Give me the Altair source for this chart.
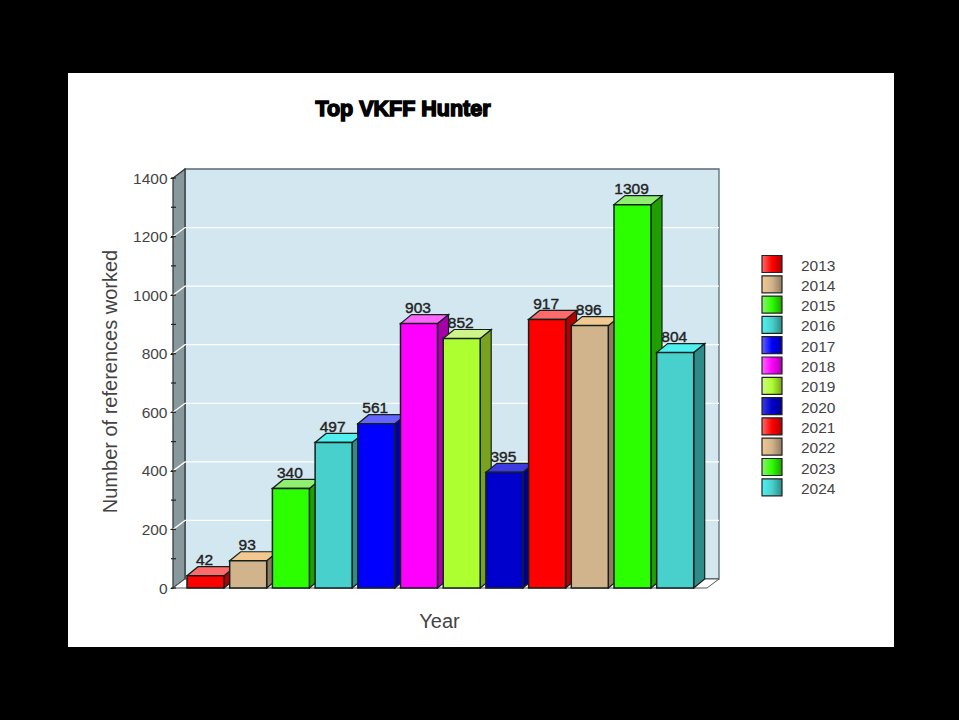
import altair as alt
import pandas as pd

years = ["2013","2014","2015","2016","2017","2018","2019","2020","2021","2022","2023","2024"]
values = [42, 93, 340, 497, 561, 903, 852, 395, 917, 896, 1309, 804]
front_colors = ["#FF0000","#D2B48C","#2BFF00","#48D1CC","#0000FF","#FF00FF","#ADFF2F","#0000CD","#FF0000","#D2B48C","#2BFF00","#48D1CC"]
top_colors = ["#FF6A6A","#F0C890","#90EE70","#50F0F0","#6464FF","#FF66FF","#CFF58A","#3C3CE0","#FF6A6A","#F0C890","#90EE70","#50F0F0"]
side_colors = ["#B00000","#8F7B60","#1FA000","#2E8B87","#0000A8","#A800A8","#79A31F","#00008C","#B00000","#8F7B60","#1FA000","#2E8B87"]
grid_values = [200, 400, 600, 800, 1000, 1200]
tick_values = [100 * i for i in range(15)]
major_ticks = [200 * i for i in range(8)]

# layout of the plot box, in pixels of the 959x720 page
PX_LEFT, PX_TOP, W, H = 173, 178, 534, 410
SLOT = 42.7
X0 = (PX_LEFT - 187) / SLOT
X1 = X0 + W / SLOT
BAR = 37 / SLOT
DX = 11 / SLOT
DY = 9 * 1400 / H
WDX = 12 / SLOT

xs = alt.Scale(domain=[X0, X1], nice=False, zero=False)
ys = alt.Scale(domain=[0, 1400], nice=False, zero=False)
x_axis = alt.Axis(title="Year", labels=False, ticks=False, domain=False,
                  grid=False, zindex=1, titleFontSize=20, titleFont="Liberation Sans", titleFontWeight="normal",
                  titleColor="#444", titleY=23, titleX=266)
y_axis = alt.Axis(title="Number of references worked", values=major_ticks,
                  format="d", grid=False, domain=False, ticks=True, tickSize=3, tickColor="#222", zindex=1,
                  labelFontSize=15.5, labelFont="Liberation Sans", labelColor="#444", labelPadding=3,
                  titleFontSize=20, titleFont="Liberation Sans", titleFontWeight="normal",
                  titleColor="#444", titleX=-53, titleY=203)
def X(f): return alt.X(f, type="quantitative", scale=xs, axis=x_axis)
def Y(f): return alt.Y(f, type="quantitative", scale=ys, axis=y_axis)

bars = pd.DataFrame({"year": years, "value": values, "c": front_colors,
                     "i": range(12)})
bars["L"] = bars.i
bars["R"] = bars.i + BAR
bars["mid"] = bars.i + BAR / 2
bars["zero"] = 0
bars["label_y"] = bars.value + DY

sides, tops = [], []
for i, v in enumerate(values):
    L, R = i, i + BAR
    sides += [dict(b=i, x=R, lo=0, hi=v, c=side_colors[i]),
              dict(b=i, x=R + DX, lo=DY, hi=v + DY, c=side_colors[i])]
    tops += [dict(b=i, x=L, lo=v, hi=v, c=top_colors[i]),
             dict(b=i, x=L + DX, lo=v, hi=v + DY, c=top_colors[i]),
             dict(b=i, x=R, lo=v, hi=v + DY, c=top_colors[i]),
             dict(b=i, x=R + DX, lo=v + DY, hi=v + DY, c=top_colors[i])]
sides = pd.DataFrame(sides)
tops = pd.DataFrame(tops)

frame = alt.Chart(pd.DataFrame({"a": [0]})).mark_rect(color="white").encode(
    x=alt.value(68 - PX_LEFT), x2=alt.value(894 - PX_LEFT),
    y=alt.value(73 - PX_TOP), y2=alt.value(647 - PX_TOP))

back = alt.Chart(pd.DataFrame({"a": [X0 + WDX], "b": [X1 + WDX], "lo": [DY], "hi": [1400 + DY]})).mark_rect(
    fill="#D3E7F0", stroke="#5A6A70", strokeWidth=1.3).encode(x=X("a:Q"), x2="b:Q", y=Y("lo:Q"), y2="hi:Q")

left_wall = alt.Chart(pd.DataFrame({"x": [X0, X0 + WDX], "lo": [0, DY], "hi": [1400, 1400 + DY]})).mark_area(
    fill="#88989C", stroke="#2A3234", strokeWidth=1.2, orient="vertical").encode(x=X("x:Q"), y=Y("lo:Q"), y2="hi:Q")

floor = alt.Chart(pd.DataFrame({"x": [X0, X0 + WDX, X1, X1 + WDX],
                                "lo": [0, 0, 0, DY], "hi": [0, DY, DY, DY]})).mark_area(
    fill="white", stroke="#555", strokeWidth=1, orient="vertical").encode(x=X("x:Q"), y=Y("lo:Q"), y2="hi:Q")

grid_rows = []
for v in grid_values:
    grid_rows += [dict(v=v, x=X0, y=v), dict(v=v, x=X0 + WDX, y=v + DY), dict(v=v, x=X1 + WDX, y=v + DY)]
grid = alt.Chart(pd.DataFrame(grid_rows)).mark_line(color="white", strokeWidth=1.3).encode(
    x=X("x:Q"), y=Y("y:Q"), detail="v:N")

ticks = alt.Chart(pd.DataFrame({"t": tick_values})).mark_rule(color="#222", strokeWidth=1.2).encode(
    y=Y("t:Q"), x=alt.value(-2), x2=alt.value(3))

labels = alt.Chart(bars).mark_text(baseline="bottom", align="center", fontSize=15.5, font="Liberation Sans",
                                   color="#222", stroke="#222", strokeWidth=0.4, dx=-1, dy=1.5).encode(
    x=X("mid:Q"), y=Y("label_y:Q"), text="value:Q")

side_layer = alt.Chart(sides).mark_area(stroke="#14201C", strokeWidth=1.2, orient="vertical").encode(
    x=X("x:Q"), y=Y("lo:Q"), y2="hi:Q", color=alt.Color("c:N", scale=None), detail="b:N")
top_layer = alt.Chart(tops).mark_area(stroke="#14201C", strokeWidth=1.2, orient="vertical").encode(
    x=X("x:Q"), y=Y("lo:Q"), y2="hi:Q", color=alt.Color("c:N", scale=None), detail="b:N")
front_layer = alt.Chart(bars).mark_rect(stroke="#14201C", strokeWidth=1.5).encode(
    x=X("L:Q"), x2="R:Q", y=Y("value:Q"), y2="zero:Q", color=alt.Color("c:N", scale=None))

title = alt.Chart(pd.DataFrame({"t": ["Top VKFF Hunter"]})).mark_text(
    font="Liberation Sans", fontWeight="bold", fontSize=21.5, color="black", stroke="black",
    strokeWidth=1.5, align="center", baseline="middle").encode(
    x=alt.value(403 - PX_LEFT), y=alt.value(110 - PX_TOP), text="t:N")

legend_layers = []
for i, yr in enumerate(years):
    py = 264 + 20.3 * i
    row = pd.DataFrame({"year": [yr]})
    grad = alt.LinearGradient(gradient="linear", x1=0, x2=1, y1=0, y2=0, stops=[
        alt.GradientStop(color=top_colors[i], offset=0),
        alt.GradientStop(color=front_colors[i], offset=0.5),
        alt.GradientStop(color=side_colors[i], offset=1)])
    legend_layers.append(alt.Chart(row).mark_rect(color=grad, stroke="#222", strokeWidth=1.2).encode(
        x=alt.value(762 - PX_LEFT), x2=alt.value(782 - PX_LEFT),
        y=alt.value(py - 8.5 - PX_TOP), y2=alt.value(py + 8.5 - PX_TOP)))
    legend_layers.append(alt.Chart(row).mark_text(align="left", baseline="middle", fontSize=15.5,
        font="Liberation Sans", color="#444").encode(
        x=alt.value(801 - PX_LEFT), y=alt.value(py + 1.5 - PX_TOP), text="year:N"))

chart = alt.layer(frame, back, left_wall, floor, grid, ticks, labels,
                  side_layer, top_layer, front_layer, title, *legend_layers).properties(
    width=W, height=H, background="black",
    padding={"left": PX_LEFT, "top": PX_TOP, "right": 959 - PX_LEFT - W, "bottom": 720 - PX_TOP - H},
    autosize=alt.AutoSizeParams(type="none")
).configure_view(stroke=None)

chart.save("out.html", embed_options={"renderer": "svg", "actions": False,
                                      "defaultStyle": "html,body{background:#000;margin:0;overflow:hidden}"})
